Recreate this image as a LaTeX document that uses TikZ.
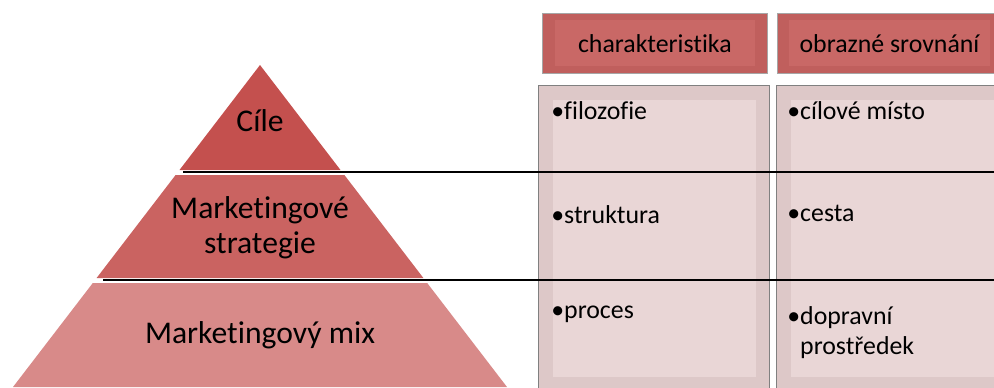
\documentclass[tikz,border=0pt]{standalone}
\usepackage{fontspec}
\setmainfont{Carlito}[Ligatures=NoCommon]
\usetikzlibrary{positioning,calc}
\definecolor{pyrtop}{HTML}{C4504E}
\definecolor{pyrmid}{HTML}{CA6361}
\definecolor{pyrbot}{HTML}{D88A89}
\definecolor{hdrfill}{HTML}{C96866}
\definecolor{hdredge}{HTML}{C05F5D}
\definecolor{cellfill}{HTML}{E9D6D6}
\definecolor{celledge}{HTML}{DDC8C8}

\begin{document}
\begin{tikzpicture}[x=0.02cm, y=-0.02cm,
  lbl/.style={font=\fontsize{18}{20}\selectfont, align=center, text=black},
  hdr/.style={draw=black!35, fill=hdredge, minimum width=4.5cm, minimum height=1.2cm, inner sep=0pt,
    font=\fontsize{14.7}{17}\selectfont,
    path picture={\fill[hdrfill] ([shift={(7pt,-4pt)}]path picture bounding box.north west) rectangle ([shift={(-7pt,4pt)}]path picture bounding box.south east);}},
  cell/.style={draw=black!50, line width=0.8pt, fill=celledge, minimum width=4.62cm, minimum height=6.1cm, inner sep=0pt,
    path picture={\fill[cellfill] ([shift={(8pt,-8pt)}]path picture bounding box.north west) rectangle ([shift={(-8pt,8pt)}]path picture bounding box.south east);}},
  item/.style={font=\fontsize{14.7}{17}\selectfont, align=left, anchor=north west, inner sep=0pt},
  sep/.style={black, line width=0.8pt}
]
  \useasboundingbox (0,0) rectangle (994,387);
  \clip (0,0) rectangle (994,387);

  % pyramid
  \fill[pyrtop] (260,65) -- (340.5,170) -- (179.5,170) -- cycle;
  \fill[pyrmid] (175.6,175) -- (344.4,175) -- (423.4,278) -- (96.6,278) -- cycle;
  \fill[pyrbot] (92.8,283) -- (427.2,283) -- (507,387) -- (13,387) -- cycle;
  \node[lbl] (goals) at (260,121) {Cíle};
  \node[lbl] (strat) at (260,228) {Marketingové\\strategie};
  \node[lbl] (mix) at (260,335) {Marketingový mix};

  % table
  \node[hdr, anchor=north west] (hchar) at (542,13) {charakteristika};
  \node[hdr, anchor=north west, right=0.18cm of hchar] (hcomp) {obrazné srovnání};
  \node[cell, anchor=north west] (cchar) at (538,85) {};
  \node[cell, anchor=north west] (ccomp) at (776,85) {};

  \node[item] (i1) at (551,101) {\textbullet filozofie};
  \node[item] (i2) at (551,205) {\textbullet struktura};
  \node[item] (i3) at (551,306) {\textbullet proces};
  \node[item] (j1) at (787,101) {\textbullet cílové místo};
  \node[item] (j2) at (787,205) {\textbullet cesta};
  \node[item] (j3) at (787,306) {\textbullet dopravní\\\hphantom{\textbullet}prostředek};

  % level lines
  \coordinate (l1) at (183,172);
  \coordinate (r1) at (994,172);
  \coordinate (l2) at (103,280);
  \coordinate (r2) at (994,280);
  \draw[sep] (l1) -- (r1);
  \draw[sep] (l2) -- (r2);
\end{tikzpicture}
\end{document}
